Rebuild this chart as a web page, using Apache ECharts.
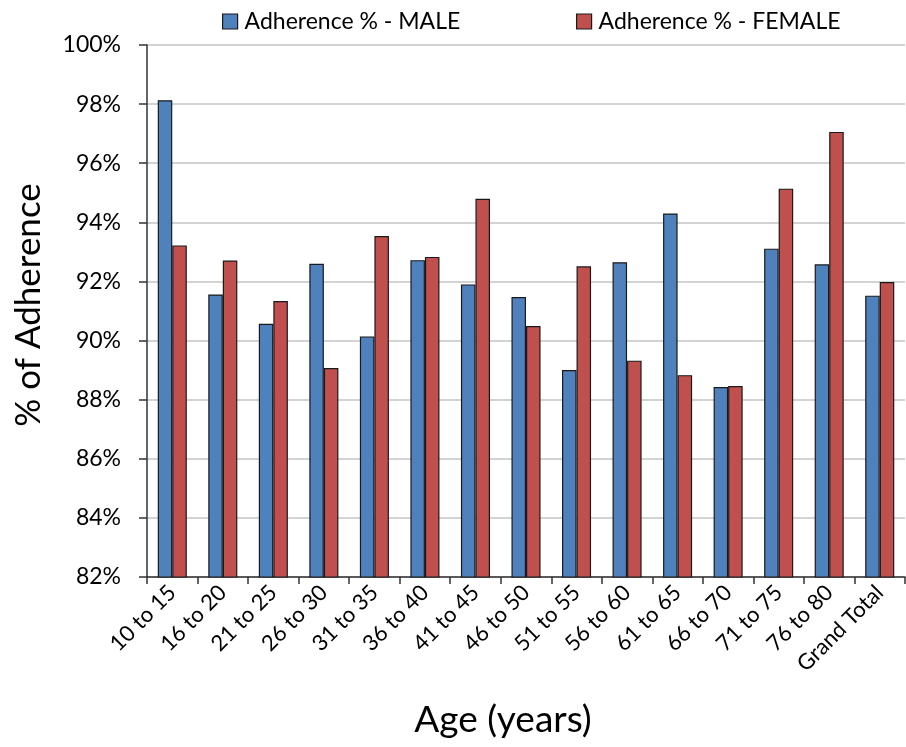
<!DOCTYPE html>
<html>
<head>
<meta charset="utf-8">
<title>Adherence by age group</title>
<script src="https://cdn.jsdelivr.net/npm/echarts@6/dist/echarts.min.js"></script>
<style>
  html, body { margin: 0; padding: 0; background: #ffffff; }
  #chart { width: 906px; height: 747px; }
</style>
</head>
<body>
<div id="chart"></div>
<script>
// Age groups along the x axis
const ageGroups = ['10 to 15', '16 to 20', '21 to 25', '26 to 30', '31 to 35', '36 to 40', '41 to 45',
  '46 to 50', '51 to 55', '56 to 60', '61 to 65', '66 to 70', '71 to 75', '76 to 80', 'Grand Total'];

// Adherence (%) per age group
const maleAdherence = [98.13, 91.56, 90.57, 92.60, 90.14, 92.72, 91.90, 91.47, 89.00, 92.65, 94.30, 88.43, 93.11, 92.58, 91.52];
const femaleAdherence = [93.22, 92.71, 91.34, 89.07, 93.54, 92.83, 94.80, 90.49, 92.51, 89.32, 88.83, 88.46, 95.14, 97.06, 91.98];

const seriesNames = ['Adherence % - MALE', 'Adherence % - FEMALE'];

const FONT = 'Lato, "Open Sans", sans-serif';
const chart = echarts.init(document.getElementById('chart'), null, { renderer: 'canvas' });

const barBorder = { borderColor: '#1a1a1a', borderWidth: 1.2 };

function legendAt(name, left) {
  return {
    data: [name],
    left: left, top: 10,
    padding: 0,
    itemWidth: 15, itemHeight: 15, itemGap: 0,
    icon: 'rect',
    itemStyle: { borderColor: '#1a1a1a', borderWidth: 1.2 },
    textStyle: { fontFamily: FONT, fontSize: 23, color: '#000', padding: [0, 0, 0, 2] }
  };
}

chart.setOption({
  animation: false,
  backgroundColor: '#ffffff',
  textStyle: { fontFamily: FONT, color: '#000' },
  legend: [legendAt(seriesNames[0], 222), legendAt(seriesNames[1], 576)],
  grid: { left: 147, right: 1, top: 45, bottom: 170, containLabel: false },
  xAxis: {
    type: 'category',
    data: ageGroups,
    axisLine: { lineStyle: { color: '#333', width: 1.5 } },
    axisTick: { show: true, length: 7, lineStyle: { color: '#333', width: 1.5 } },
    axisLabel: { rotate: 45, fontSize: 22, color: '#000', fontFamily: FONT, margin: 12, interval: 0 }
  },
  yAxis: {
    type: 'value',
    min: 82, max: 100, interval: 2,
    axisLine: { show: true, lineStyle: { color: '#333', width: 1.5 } },
    axisTick: { show: true, length: 8, lineStyle: { color: '#333', width: 1.5 } },
    axisLabel: { formatter: '{value}%', fontSize: 23, color: '#000', fontFamily: FONT, margin: 26 },
    splitLine: { lineStyle: { color: '#c4c4c4', width: 1.5 } }
  },
  series: [
    {
      name: seriesNames[0],
      type: 'bar',
      data: maleAdherence,
      barGap: '0%',
      barCategoryGap: '42.5%',
      itemStyle: Object.assign({ color: '#4F81BD' }, barBorder)
    },
    {
      name: seriesNames[1],
      type: 'bar',
      data: femaleAdherence,
      barGap: '0%',
      barCategoryGap: '42.5%',
      itemStyle: Object.assign({ color: '#C0504D' }, barBorder)
    }
  ],
  graphic: [
    {
      type: 'text',
      x: 503, y: 720,
      style: { text: 'Age (years)', fontSize: 37, fontFamily: FONT, fill: '#000', textAlign: 'center', textVerticalAlign: 'middle' }
    },
    {
      type: 'text',
      x: 29, y: 305,
      rotation: Math.PI / 2,
      style: { text: '% of Adherence', fontSize: 35, fontFamily: FONT, fill: '#000', textAlign: 'center', textVerticalAlign: 'middle' }
    }
  ]
});
</script>
</body>
</html>
